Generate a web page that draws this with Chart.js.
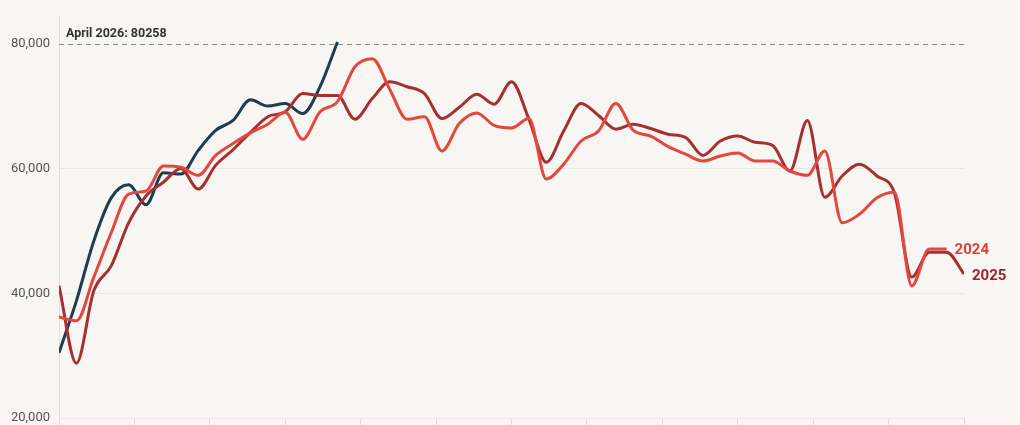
<!DOCTYPE html>
<html>
<head>
<meta charset="utf-8">
<script src="https://cdn.jsdelivr.net/npm/chart.js@4.4.1/dist/chart.umd.min.js"></script>
<style>
  html, body { margin: 0; padding: 0; background: #f7f6f2; overflow: hidden; }
  #wrap { width: 1020px; height: 435px; position: relative; }
</style>
</head>
<body>
<div id="wrap"><canvas id="weeklyChart"></canvas></div>
<script>
// week numbers on the x axis
const weeks = [1, 2, 3, 4, 5, 6, 7, 8, 9, 10, 11, 12, 13, 14, 15, 16, 17, 18, 19, 20,
    21, 22, 23, 24, 25, 26, 27, 28, 29, 30, 31, 32, 33, 34, 35, 36, 37, 38, 39, 40,
    41, 42, 43, 44, 45, 46, 47, 48, 49, 50, 51, 52, 53];

const values2024 = [36200, 35600, 42600, 49700, 55900, 56400, 60400, 60200, 58900, 62100,
    64000, 65700, 67100, 69000, 64700, 69100, 70700, 76300, 77600, 72700,
    67900, 68300, 62800, 67200, 68900, 66900, 66500, 68000, 58300, 60700,
    64400, 66000, 70400, 66100, 65200, 63500, 62300, 61200, 62000, 62500,
    61200, 61200, 59600, 58900, 62800, 51300, 52700, 55300, 56200, 41200,
    47100, 47100];

const values2025 = [41200, 28800, 40400, 44400, 51300, 55600, 57800, 60000, 56700, 60500,
    63000, 65800, 68300, 69100, 72000, 71700, 71700, 67900, 71200, 73900,
    73100, 72000, 68000, 69800, 71900, 70300, 73900, 67900, 61000, 66000,
    70400, 68500, 66300, 67100, 66400, 65500, 65000, 62100, 64400, 65200,
    64200, 63700, 59600, 67700, 55400, 58800, 60700, 58800, 56100, 42600,
    46600, 46600, 43100];

const values2026 = [30500, 38800, 48400, 55300, 57400, 54200, 59300, 59100, 62900, 66100,
    67700, 71000, 70000, 70400, 68800, 73100, 80258];

const yTicks = [20000, 40000, 60000, 80000];
const monthTicks = [1, 5.33, 9.67, 14, 18.33, 22.67, 27, 31.33, 35.67, 40, 44.33, 48.67, 53];

const peakLabel = 'April 2026: 80258';
const peakValue = 80000;

function toPoints(vals) {
    return vals.map((v, i) => ({ x: weeks[i], y: v }));
}

// dashed reference line, its label, and the end-of-line year labels
const annotations = {
    id: 'annotations',
    afterDatasetsDraw(chart) {
        const ctx = chart.ctx;
        const area = chart.chartArea;
        const y = chart.scales.y.getPixelForValue(peakValue);
        ctx.save();
        ctx.strokeStyle = '#8a8a8a';
        ctx.lineWidth = 1;
        ctx.setLineDash([5, 4]);
        ctx.beginPath();
        ctx.moveTo(area.left, Math.round(y) + 0.5);
        ctx.lineTo(area.right, Math.round(y) + 0.5);
        ctx.stroke();
        ctx.setLineDash([]);

        ctx.font = 'bold 12.5px Roboto, sans-serif';
        ctx.fillStyle = '#333333';
        ctx.textBaseline = 'bottom';
        ctx.fillText(peakLabel, area.left + 7, y - 4);

        ctx.font = 'bold 15px Roboto, sans-serif';
        ctx.textBaseline = 'middle';
        chart.data.datasets.forEach((ds, i) => {
            if (!ds.endLabel) return;
            const meta = chart.getDatasetMeta(i);
            const last = meta.data[meta.data.length - 1];
            ctx.fillStyle = ds.labelColor;
            ctx.fillText(ds.endLabel, last.x + 8, last.y + ds.labelShift);
        });
        ctx.restore();
    }
};

document.addEventListener('DOMContentLoaded', function() {
    const ctx = document.getElementById('weeklyChart').getContext('2d');
    new Chart(ctx, {
        type: 'line',
        data: {
            datasets: [{
                label: '2024',
                endLabel: '2024',
                labelColor: '#df4138',
                labelShift: 1,
                data: toPoints(values2024),
                borderColor: '#e2483f',
                borderWidth: 3,
                pointRadius: 0,
                cubicInterpolationMode: 'monotone'
            }, {
                label: '2025',
                endLabel: '2025',
                labelColor: '#9f2229',
                labelShift: 2,
                data: toPoints(values2025),
                borderColor: '#a52f31',
                borderWidth: 3,
                pointRadius: 0,
                cubicInterpolationMode: 'monotone'
            }, {
                label: '2026',
                data: toPoints(values2026),
                borderColor: '#1e3d4e',
                borderWidth: 3,
                pointRadius: 0,
                cubicInterpolationMode: 'monotone'
            }]
        },
        options: {
            responsive: true,
            maintainAspectRatio: false,
            animation: false,
            layout: { padding: { top: 15, right: 56, bottom: 0, left: 0 } },
            plugins: {
                legend: { display: false },
                tooltip: { enabled: false }
            },
            scales: {
                x: {
                    type: 'linear',
                    min: 1,
                    max: 53,
                    afterBuildTicks: scale => { scale.ticks = monthTicks.map(v => ({ value: v })); },
                    afterFit: scale => { scale.height = 7; },
                    ticks: { display: false },
                    grid: {
                        drawOnChartArea: false,
                        drawTicks: true,
                        tickLength: 7,
                        tickColor: '#dedcd7'
                    },
                    border: { display: false }
                },
                y: {
                    min: 20000,
                    max: 84300,
                    afterBuildTicks: scale => { scale.ticks = yTicks.map(v => ({ value: v })); },
                    afterFit: scale => { scale.width = 59; },
                    ticks: {
                        padding: 9,
                        color: '#555555',
                        font: { family: 'Roboto', size: 13 },
                        callback: v => v.toLocaleString('en-US')
                    },
                    grid: {
                        drawTicks: false,
                        color: c => c.tick && c.tick.value === peakValue ? 'rgba(0,0,0,0)' : '#ebe9e4'
                    },
                    border: { display: true, color: '#e4e2dd' }
                }
            }
        },
        plugins: [annotations]
    });
});
</script>
</body>
</html>
